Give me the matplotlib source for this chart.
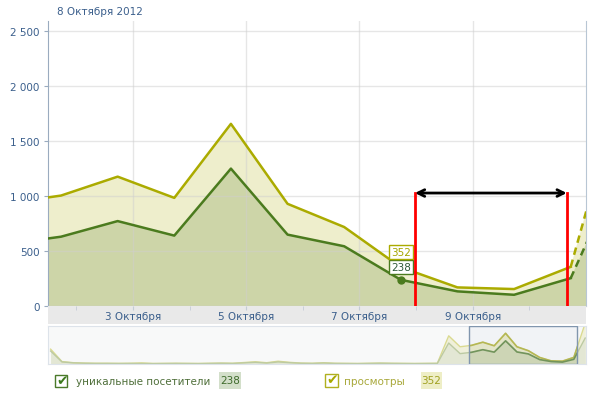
import numpy as np
import matplotlib
matplotlib.use("Agg")
import matplotlib.pyplot as plt
from matplotlib.patches import Rectangle

plt.rcParams['font.family'] = ['DejaVu Sans']

# daily values, first day is 36 days before the visible window
unique_visitors = [700, 110, 60, 40, 30, 30, 25, 30, 25, 20, 25, 30, 25, 20, 30, 40, 30, 60,
                   90, 50, 110, 70, 40, 30, 50, 30, 25, 20, 30, 40, 30, 25, 20, 25, 30, 1130,
                   560, 630, 772, 640, 1249, 649, 543, 238, 133, 102, 253, 1400]
page_views = [800, 130, 70, 50, 40, 40, 35, 40, 60, 30, 35, 40, 35, 30, 40, 50, 40, 80,
              120, 70, 150, 90, 50, 40, 70, 40, 35, 30, 40, 50, 40, 35, 30, 35, 40, 1520,
              930, 1004, 1176, 983, 1656, 929, 718, 352, 169, 154, 356, 2200]
days = np.arange(len(unique_visitors)) - 35.27

y_ticks = [0, 500, 1000, 1500, 2000, 2500]
y_labels = ['0', '500', '1 000', '1 500', '2 000', '2 500']
date_ticks = [3, 5, 7, 9]
date_labels = ['3 Октября', '5 Октября', '7 Октября', '9 Октября']
title = '8 Октября 2012'
hover_idx = 43
series_names = ['уникальные посетители', 'просмотры']

# hand-drawn range marker
mark_from, mark_to, mark_level = 7.98, 10.66, 1027

uv = np.array(unique_visitors, dtype=float)
pv = np.array(page_views, dtype=float)

GREEN = '#4b7b1e'
YELLOW = '#abab00'
GREEN_FILL = '#cdd5a8'
YELLOW_FILL = '#eeeecc'
BLUE_TXT = '#3b5f8c'

W, H = 613, 410
fig = plt.figure(figsize=(W / 100, H / 100), dpi=100)


def px_box(x0, y0, x1, y1):
    return [x0 / W, 1 - y1 / H, (x1 - x0) / W, (y1 - y0) / H]


ax = fig.add_axes(px_box(48, 22, 586, 307))
band = fig.add_axes(px_box(48, 307, 586, 325))
nav = fig.add_axes(px_box(48, 327, 586, 365))

# main chart
ax.set_xlim(1.5, 11.0)
ax.set_ylim(0, 2591)
ax.fill_between(days, pv, color=YELLOW_FILL, lw=0, zorder=1)
ax.fill_between(days, uv, color=GREEN_FILL, lw=0, zorder=1)
ax.plot(days[:-1], pv[:-1], color=YELLOW, lw=1.8, zorder=3)
ax.plot(days[:-1], uv[:-1], color=GREEN, lw=1.8, zorder=3)
ax.plot(days[-2:], pv[-2:], color=YELLOW, lw=1.8, ls=(0, (3, 2)), zorder=3)
ax.plot(days[-2:], uv[-2:], color=GREEN, lw=1.8, ls=(0, (3, 2)), zorder=3)
ax.plot(days[hover_idx], uv[hover_idx], 'o', color=GREEN, ms=5, zorder=4)

ax.set_yticks(y_ticks)
ax.set_yticklabels(y_labels)
ax.set_xticks(date_ticks)
ax.set_xticklabels([])
ax.set_axisbelow('line')
ax.grid(color='#cfcfcf', alpha=0.5, lw=1)
ax.tick_params(axis='y', length=3, color='#9aabbf', labelcolor=BLUE_TXT, labelsize=7.5, pad=3)
ax.tick_params(axis='x', length=0)
ax.spines['top'].set_visible(False)
ax.spines['left'].set_color('#9aabbf')
ax.spines['right'].set_color('#b8c6d4')
ax.spines['bottom'].set_color('#c8d0d8')

# tooltip
ax.annotate(str(page_views[hover_idx]), (days[hover_idx], uv[hover_idx]),
            xytext=(0, 28), textcoords='offset pixels', ha='center', va='center',
            fontsize=7.5, color='#a5a500', zorder=6,
            bbox=dict(boxstyle='square,pad=0.2', fc='white', ec=YELLOW, lw=1))
ax.annotate(str(unique_visitors[hover_idx]), (days[hover_idx], uv[hover_idx]),
            xytext=(0, 13), textcoords='offset pixels', ha='center', va='center',
            fontsize=7.5, color='#2f5a3a', zorder=5,
            bbox=dict(boxstyle='square,pad=0.2', fc='white', ec=GREEN, lw=1))

# range marker
for xv in (mark_from, mark_to):
    ax.plot([xv, xv], [-27, mark_level], color='#ff0000', lw=2, zorder=7, clip_on=False)
ax.annotate('', xy=(mark_from, mark_level), xytext=(mark_to, mark_level),
            arrowprops=dict(arrowstyle='<->', color='black', lw=2,
                            shrinkA=0, shrinkB=0, mutation_scale=12), zorder=8)

# date band
band.set_facecolor('#e9e9e9')
band.set_xlim(ax.get_xlim())
band.set_ylim(0, 1)
for s in band.spines.values():
    s.set_visible(False)
band.xaxis.set_ticks_position('top')
band.set_xticks(date_ticks)
band.set_xticks([2, 4, 6, 8, 10], minor=True)
band.tick_params(which='both', direction='in', length=3, color='#c4ccd6',
                 labeltop=False, labelbottom=False)
band.set_yticks([])
for d, lab in zip(date_ticks, date_labels):
    band.text(d, 0.45, lab, ha='center', va='center', fontsize=7.5, color=BLUE_TXT)

# navigator
nav.set_facecolor('#f8f9f9')
nav.set_xlim(-35.5, 11.8)
nav.set_ylim(0, 2050)
nav.set_xticks([])
nav.set_yticks([])
for s in nav.spines.values():
    s.set_color('#dde3ea')
nav.fill_between(days, pv, color='#f0f0da', lw=0)
nav.fill_between(days, uv, color='#e3e7d4', lw=0)
nav.plot(days, pv, color='#dada90', lw=1)
nav.plot(days, uv, color='#bccaa2', lw=1)

win = Rectangle((1.5, 0), 9.5, 2050, transform=nav.transData)
inner = [nav.fill_between(days, pv, color='#e6e6bc', lw=0),
         nav.fill_between(days, uv, color='#c8d0a2', lw=0)]
inner += nav.plot(days, pv, color='#a8a820', lw=1.2)
inner += nav.plot(days, uv, color='#4f7a2a', lw=1.2)
for a in inner:
    a.set_clip_path(win)
nav.add_patch(Rectangle((1.5, 0), 9.5, 2050, fc='#dde5ee', alpha=0.25, ec='none', zorder=4))
nav.add_patch(Rectangle((1.5, 0), 9.5, 2050, fc='none', ec='#8196ae', lw=1, zorder=5))

# title
fig.text(57 / W, 1 - 12 / H, title, fontsize=7.5, color=BLUE_TXT, va='center')

# legend
def checkbox(x0, y0, size, edge, tick):
    fig.patches.append(Rectangle((x0 / W, 1 - (y0 + size) / H), size / W, size / H,
                                 transform=fig.transFigure, fc='white', ec=edge, lw=1))
    fig.text((x0 + size / 2 + 1) / W, 1 - (y0 + size / 2 - 1) / H, '✔', fontsize=10,
             color=tick, ha='center', va='center')


def value_tag(x0, x1, y0, y1, text, bg, fg):
    fig.patches.append(Rectangle((x0 / W, 1 - y1 / H), (x1 - x0) / W, (y1 - y0) / H,
                                 transform=fig.transFigure, fc=bg, ec='none'))
    fig.text((x0 + x1) / 2 / W, 1 - (y0 + y1) / 2 / H, text, fontsize=7.5,
             color=fg, ha='center', va='center')


checkbox(55, 376, 12, '#4b7a2a', '#3d7a1e')
fig.text(76 / W, 1 - 382 / H, series_names[0], fontsize=7.5, color='#4f6f3a', va='center')
value_tag(219, 241, 373, 390, str(unique_visitors[hover_idx]), '#d3dfca', '#3f6b2c')

checkbox(325, 375, 13, '#b0b020', '#a8a800')
fig.text(344 / W, 1 - 382 / H, series_names[1], fontsize=7.5, color='#a8a83a', va='center')
value_tag(421, 442, 373, 390, str(page_views[hover_idx]), '#eeeec6', '#a0a020')

fig.savefig('out.png', dpi=100)
